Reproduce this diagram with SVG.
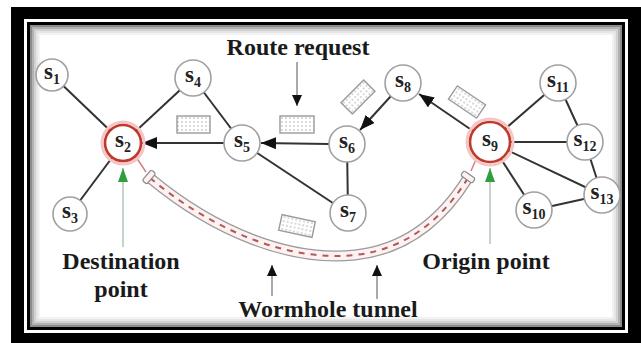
<svg xmlns="http://www.w3.org/2000/svg" width="641" height="343" viewBox="0 0 641 343">
<defs>
<style>
.node{fill:#fff;stroke:#a0a0a0;stroke-width:1.6}
.red{fill:#fff;stroke:#c0392b;stroke-width:2.6}
.lbl{font-family:"Liberation Serif","Times New Roman",serif;font-weight:bold;font-size:23px;fill:#222;text-anchor:middle}
.sub{font-size:14px}
.edge{stroke:#333;stroke-width:2;fill:none}
.cap{font-family:"Liberation Serif","Times New Roman",serif;font-weight:bold;font-size:24px;fill:#1a1a1a}
.pkt{fill:url(#dots);stroke:#9a9a9a;stroke-width:1.4}
.tube{fill:none}
</style>
<pattern id="dots" width="4" height="4" patternUnits="userSpaceOnUse">
<rect width="4" height="4" fill="#fff"/>
<circle cx="2" cy="2" r="0.8" fill="#aaa"/>
</pattern>
<marker id="ah" markerUnits="userSpaceOnUse" markerWidth="16" markerHeight="12" refX="15" refY="6" orient="auto">
<path d="M0,0 L15,6 L0,12 z" fill="#111"/>
</marker>
<marker id="ahs" markerUnits="userSpaceOnUse" markerWidth="12" markerHeight="14" refX="11" refY="5" orient="auto">
<path d="M0,0 L11,5 L0,10 z" fill="#111"/>
</marker>
<marker id="ahg" markerUnits="userSpaceOnUse" markerWidth="16" markerHeight="12" refX="14" refY="5" orient="auto">
<path d="M0,0 L14,5 L0,10 z" fill="#2e9e3e"/>
</marker>
</defs>

<!-- frame -->
<rect x="0" y="0" width="641" height="343" fill="#fff"/>
<rect x="11" y="7" width="630" height="336" fill="#000"/>
<rect x="24" y="19" width="604" height="314" fill="#fff"/>
<rect x="28.5" y="23.5" width="595" height="305" fill="#fff" stroke="#000" stroke-width="3"/>
<g fill="none" stroke="#000">
<rect x="31" y="26" width="590" height="300" stroke-width="2" stroke-opacity="0.45"/>
<rect x="33" y="28" width="586" height="296" stroke-width="2" stroke-opacity="0.3"/>
<rect x="35" y="30" width="582" height="292" stroke-width="2" stroke-opacity="0.18"/>
<rect x="37" y="32" width="578" height="288" stroke-width="2" stroke-opacity="0.1"/>
<rect x="39" y="34" width="574" height="284" stroke-width="2" stroke-opacity="0.05"/>
</g>

<!-- tunnel -->
<g id="tunnel">
<path class="tube" d="M150,178 C215,232 290,262 355,255 C410,249 445,215 468,178" stroke="#9a9a9a" stroke-width="11"/>
<path class="tube" d="M150,178 C215,232 290,262 355,255 C410,249 445,215 468,178" stroke="#fdf1f1" stroke-width="8.5"/>
<path class="tube" d="M150,178 C215,232 290,262 355,255 C410,249 445,215 468,178" stroke="#b05a5a" stroke-width="2" stroke-dasharray="6,6"/>
<rect x="-7" y="-3" width="14" height="6" rx="2" fill="#fdf1f1" stroke="#8a8a8a" stroke-width="1.2" transform="translate(149,177) rotate(-50)"/>
<rect x="-7" y="-3" width="14" height="6" rx="2" fill="#fdf1f1" stroke="#8a8a8a" stroke-width="1.2" transform="translate(468,177) rotate(35)"/>
<line x1="136" y1="157" x2="146" y2="172" stroke="#d98080" stroke-width="1.5"/>
<line x1="477" y1="157" x2="471" y2="171" stroke="#d98080" stroke-width="1.5"/>
</g>

<!-- connectors -->
<g id="connectors">
<line class="edge" x1="52" y1="75" x2="123" y2="143"/>
<line class="edge" x1="123" y1="143" x2="70" y2="214"/>
<line class="edge" x1="123" y1="143" x2="193" y2="78"/>
<line class="edge" x1="193" y1="78" x2="242" y2="143"/>
<line class="edge" x1="242" y1="143" x2="348" y2="213"/>
<line class="edge" x1="347" y1="144" x2="348" y2="213"/>
<line class="edge" x1="490" y1="142" x2="558" y2="83"/>
<line class="edge" x1="490" y1="142" x2="585" y2="142"/>
<line class="edge" x1="490" y1="142" x2="602" y2="195"/>
<line class="edge" x1="490" y1="142" x2="534" y2="210"/>
<line class="edge" x1="558" y1="83" x2="585" y2="142"/>
<line class="edge" x1="585" y1="142" x2="602" y2="195"/>
<line class="edge" x1="602" y1="195" x2="534" y2="210"/>
<line class="edge" x1="224" y1="143" x2="142" y2="143" marker-end="url(#ah)"/>
<line class="edge" x1="329" y1="144" x2="261" y2="143" marker-end="url(#ah)"/>
<line class="edge" x1="391" y1="96" x2="360" y2="130" marker-end="url(#ah)"/>
<line class="edge" x1="473" y1="131" x2="419" y2="94" marker-end="url(#ah)"/>
<!-- label arrows -->
<line x1="297" y1="62" x2="297" y2="106" stroke="#555" stroke-width="1" marker-end="url(#ahs)"/>
<line x1="272" y1="296" x2="272" y2="265" stroke="#555" stroke-width="1" marker-end="url(#ahs)"/>
<line x1="377" y1="299" x2="377" y2="265" stroke="#555" stroke-width="1" marker-end="url(#ahs)"/>
<line x1="123" y1="247" x2="123" y2="168" stroke="#8aa88f" stroke-width="1" marker-end="url(#ahg)"/>
<line x1="490" y1="244" x2="490" y2="168" stroke="#8aa88f" stroke-width="1" marker-end="url(#ahg)"/>
</g>

<!-- packets -->
<g id="packets">
<rect class="pkt" x="177" y="116" width="33" height="17"/>
<rect class="pkt" x="280" y="116" width="34" height="17"/>
<rect class="pkt" x="-16" y="-8" width="32" height="16" transform="translate(358,97) rotate(-45)"/>
<rect class="pkt" x="-17" y="-8" width="34" height="16" transform="translate(467,102) rotate(34)"/>
<rect class="pkt" x="-17" y="-8" width="34" height="16" transform="translate(297,226) rotate(12)"/>
</g>

<!-- nodes -->
<g id="s1"><circle class="node" cx="52" cy="75" r="16"/><text class="lbl" x="52" y="79">s<tspan class="sub" dy="5">1</tspan></text></g>
<g id="s2"><circle cx="123" cy="143" r="21" fill="none" stroke="#f4c6c6" stroke-width="3"/><circle class="red" cx="123" cy="143" r="18"/><text class="lbl" x="123" y="147">s<tspan class="sub" dy="5">2</tspan></text></g>
<g id="s3"><circle class="node" cx="70" cy="214" r="17"/><text class="lbl" x="70" y="218">s<tspan class="sub" dy="5">3</tspan></text></g>
<g id="s4"><circle class="node" cx="193" cy="78" r="18"/><text class="lbl" x="193" y="82">s<tspan class="sub" dy="5">4</tspan></text></g>
<g id="s5"><circle class="node" cx="242" cy="143" r="18"/><text class="lbl" x="242" y="147">s<tspan class="sub" dy="5">5</tspan></text></g>
<g id="s6"><circle class="node" cx="347" cy="144" r="18"/><text class="lbl" x="347" y="148">s<tspan class="sub" dy="5">6</tspan></text></g>
<g id="s7"><circle class="node" cx="348" cy="213" r="18"/><text class="lbl" x="348" y="217">s<tspan class="sub" dy="5">7</tspan></text></g>
<g id="s8"><circle class="node" cx="403" cy="83" r="18"/><text class="lbl" x="403" y="87">s<tspan class="sub" dy="5">8</tspan></text></g>
<g id="s9"><circle cx="490" cy="142" r="23" fill="none" stroke="#f4c6c6" stroke-width="3"/><circle class="red" cx="490" cy="142" r="20"/><text class="lbl" x="490" y="146">s<tspan class="sub" dy="5">9</tspan></text></g>
<g id="s10"><circle class="node" cx="534" cy="210" r="18"/><text class="lbl" x="534" y="214">s<tspan class="sub" dy="5">10</tspan></text></g>
<g id="s11"><circle class="node" cx="558" cy="83" r="18"/><text class="lbl" x="558" y="87">s<tspan class="sub" dy="5">11</tspan></text></g>
<g id="s12"><circle class="node" cx="585" cy="142" r="18"/><text class="lbl" x="585" y="146">s<tspan class="sub" dy="5">12</tspan></text></g>
<g id="s13"><circle class="node" cx="602" cy="195" r="18"/><text class="lbl" x="602" y="199">s<tspan class="sub" dy="5">13</tspan></text></g>

<!-- captions -->
<g id="captions">
<text class="cap" x="298" y="55" text-anchor="middle">Route request</text>
<text class="cap" x="121" y="269" text-anchor="middle">Destination</text>
<text class="cap" x="121" y="297" text-anchor="middle">point</text>
<text class="cap" x="486" y="269" text-anchor="middle">Origin point</text>
<text class="cap" x="328" y="317" text-anchor="middle">Wormhole tunnel</text>
</g>
</svg>
